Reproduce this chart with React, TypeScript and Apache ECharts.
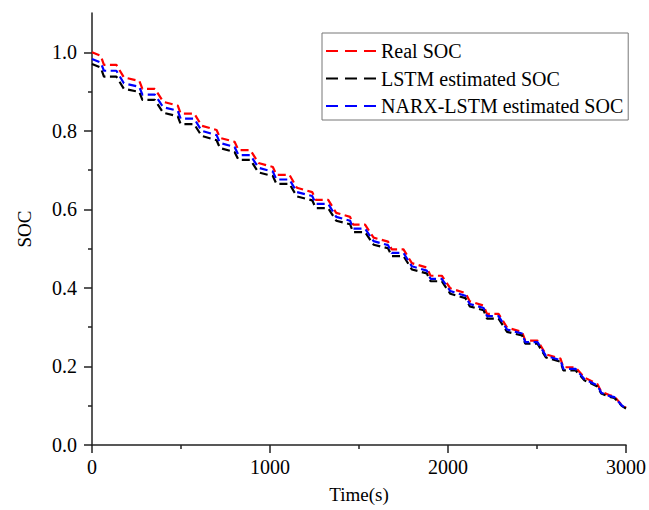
import React, { useEffect, useRef } from "react";
import * as echarts from "echarts";

const timeS = [0, 49, 67, 137, 179, 266, 283, 353, 400, 482, 498, 574, 616, 700, 719, 801, 823, 890, 935, 1016, 1036, 1109, 1151, 1237, 1258, 1327, 1372, 1450, 1467, 1534, 1582, 1663, 1684, 1750, 1797, 1881, 1902, 1965, 2013, 2098, 2122, 2200, 2219, 2284, 2332, 2416, 2434, 2503, 2550, 2632, 2648, 2716, 2766, 2839, 2861, 2906, 2934, 2978, 3000];

const realSOC = [1.000, 0.991, 0.968, 0.968, 0.936, 0.927, 0.907, 0.907, 0.874, 0.864, 0.844, 0.844, 0.813, 0.802, 0.782, 0.772, 0.751, 0.751, 0.718, 0.708, 0.688, 0.688, 0.655, 0.644, 0.624, 0.624, 0.591, 0.581, 0.561, 0.561, 0.528, 0.518, 0.498, 0.498, 0.463, 0.452, 0.431, 0.431, 0.399, 0.387, 0.366, 0.355, 0.334, 0.334, 0.299, 0.288, 0.266, 0.266, 0.231, 0.220, 0.198, 0.198, 0.172, 0.155, 0.136, 0.127, 0.124, 0.101, 0.095];

const lstmSOC = [0.970, 0.961, 0.938, 0.938, 0.907, 0.899, 0.879, 0.879, 0.846, 0.837, 0.817, 0.817, 0.787, 0.776, 0.756, 0.746, 0.726, 0.726, 0.694, 0.685, 0.665, 0.665, 0.633, 0.623, 0.603, 0.603, 0.571, 0.562, 0.542, 0.542, 0.510, 0.501, 0.481, 0.481, 0.447, 0.437, 0.417, 0.417, 0.385, 0.374, 0.353, 0.343, 0.322, 0.322, 0.288, 0.279, 0.258, 0.258, 0.223, 0.212, 0.190, 0.190, 0.165, 0.149, 0.131, 0.123, 0.120, 0.099, 0.093];

const narxSOC = [0.983, 0.974, 0.953, 0.953, 0.921, 0.912, 0.892, 0.892, 0.860, 0.851, 0.831, 0.831, 0.800, 0.789, 0.769, 0.759, 0.738, 0.738, 0.706, 0.696, 0.676, 0.676, 0.644, 0.634, 0.614, 0.614, 0.581, 0.571, 0.551, 0.551, 0.519, 0.509, 0.489, 0.489, 0.455, 0.444, 0.423, 0.423, 0.392, 0.380, 0.359, 0.349, 0.328, 0.328, 0.294, 0.284, 0.262, 0.262, 0.227, 0.216, 0.194, 0.194, 0.168, 0.152, 0.133, 0.125, 0.122, 0.100, 0.094];

const seriesNames = ["Real SOC", "LSTM estimated SOC", "NARX-LSTM estimated SOC"];
const seriesColors = ["#ff0000", "#000000", "#0000ff"];

const yTickValues = [0, 0.2, 0.4, 0.6, 0.8, 1.0];
const yMinorTicks = [0.1, 0.3, 0.5, 0.7, 0.9];
const xTickValues = [0, 1000, 2000, 3000];
const xMinorTicks = [500, 1500, 2500];

const FONT = "'Liberation Serif', 'Times New Roman', serif";
const AXIS_COLOR = "#222";

export default function App() {
  const ref = useRef<HTMLDivElement>(null);

  useEffect(() => {
    if (!ref.current) return;
    const chart = echarts.init(ref.current, undefined, { renderer: "svg" });
    const allSeries = [realSOC, lstmSOC, narxSOC];
    const option = {
      animation: false,
      backgroundColor: "#ffffff",
      grid: { left: 92, right: 21, top: 13, bottom: 65 },
      legend: {
        orient: "vertical",
        left: 322,
        top: 33,
        padding: [8, 5, 4, 3],
        itemGap: 7.5,
        itemWidth: 50,
        itemHeight: 14,
        borderColor: "#777",
        borderWidth: 1,
        backgroundColor: "#fff",
        data: seriesNames,
        itemStyle: { opacity: 0, borderWidth: 0 },
        lineStyle: { type: [12, 7], width: 2 },
        textStyle: { fontFamily: FONT, fontSize: 20, color: "#000" },
      },
      xAxis: [
        {
          type: "value",
          min: 0,
          max: 3000,
          interval: 1000,
          position: "bottom",
          name: "Time(s)",
          nameLocation: "middle",
          nameGap: 40,
          nameTextStyle: { fontFamily: FONT, fontSize: 19, color: "#000" },
          axisLine: { show: true, lineStyle: { color: AXIS_COLOR, width: 1.5 } },
          axisTick: { show: true, length: 8, lineStyle: { color: AXIS_COLOR, width: 1.5 }, customValues: xTickValues },
          axisLabel: {
            fontFamily: FONT,
            fontSize: 20,
            color: "#000",
            margin: 12,
            customValues: xTickValues,
            formatter: (v: number) => String(Math.round(v)),
          },
          splitLine: { show: false },
        },
        {
          type: "value",
          min: 0,
          max: 3000,
          position: "bottom",
          axisLine: { show: false },
          axisTick: { show: true, length: 4, lineStyle: { color: AXIS_COLOR, width: 1.5 }, customValues: xMinorTicks },
          axisLabel: { show: false },
          splitLine: { show: false },
        },
      ],
      yAxis: [
        {
          type: "value",
          min: 0,
          max: 1.1,
          position: "left",
          name: "SOC",
          nameLocation: "middle",
          nameGap: 58,
          nameRotate: 90,
          nameTextStyle: { fontFamily: FONT, fontSize: 19, color: "#000" },
          axisLine: { show: true, lineStyle: { color: AXIS_COLOR, width: 1.5 } },
          axisTick: { show: true, length: 8, lineStyle: { color: AXIS_COLOR, width: 1.5 }, customValues: yTickValues },
          axisLabel: {
            fontFamily: FONT,
            fontSize: 20,
            color: "#000",
            margin: 15,
            customValues: yTickValues,
            formatter: (v: number) => v.toFixed(1),
          },
          splitLine: { show: false },
        },
        {
          type: "value",
          min: 0,
          max: 1.1,
          position: "left",
          axisLine: { show: false },
          axisTick: { show: true, length: 4, lineStyle: { color: AXIS_COLOR, width: 1.5 }, customValues: yMinorTicks },
          axisLabel: { show: false },
          splitLine: { show: false },
        },
      ],
      series: seriesNames.map((name, k) => ({
        name,
        type: "line",
        xAxisIndex: 0,
        yAxisIndex: 0,
        symbol: "none",
        showSymbol: false,
        color: seriesColors[k],
        lineStyle: { color: seriesColors[k], width: 2.2, type: [8, 4.5] },
        data: timeS.map((t, i) => [t, allSeries[k][i]]),
        z: 2 + k,
      })),
    };
    chart.setOption(option as any);
    return () => chart.dispose();
  }, []);

  return (
    <div
      ref={ref}
      style={{ position: "fixed", left: 0, top: 0, width: 649, height: 510, background: "#fff" }}
    />
  );
}
